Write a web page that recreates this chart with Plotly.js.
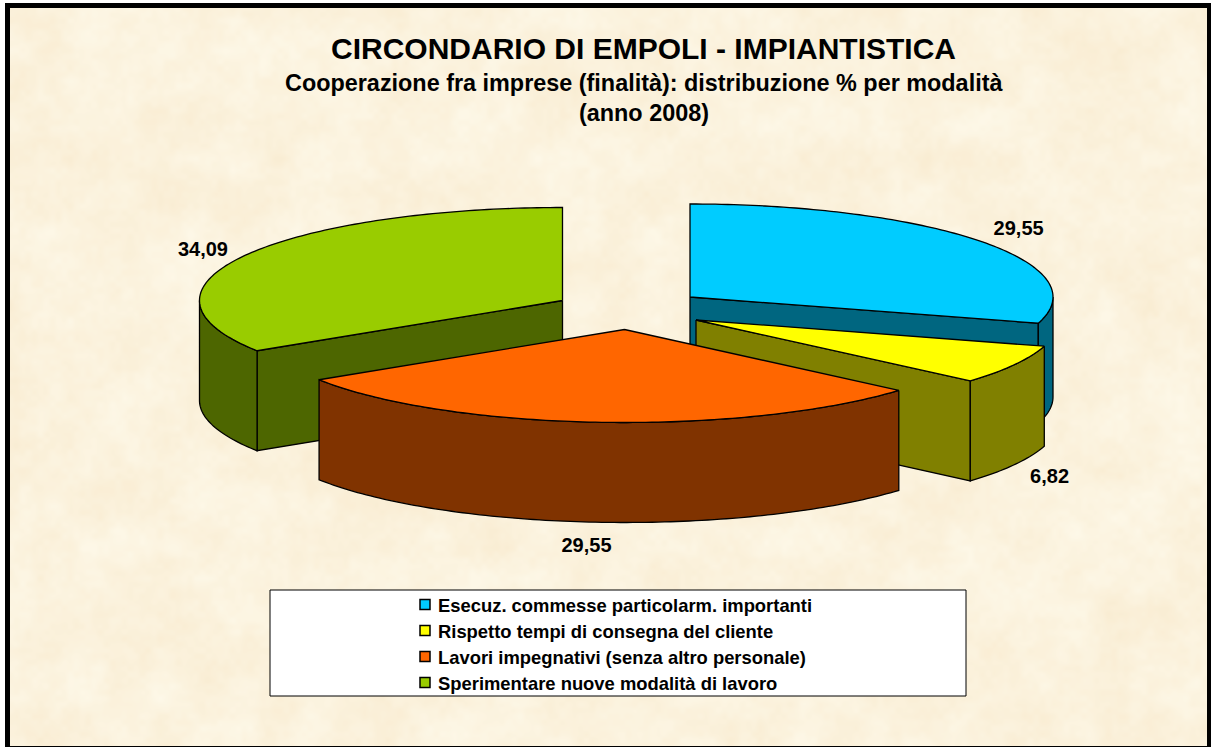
<!DOCTYPE html>
<html><head><meta charset="utf-8">
<script src="https://cdn.plot.ly/plotly-3.0.1.min.js"></script>
<style>html,body{margin:0;padding:0;background:#fff}#chart{width:1211px;height:747px}</style>
</head><body><div id="chart"></div>
<script>
// --- data ---
const categories = ["Esecuz. commesse particolarm. importanti","Rispetto tempi di consegna del cliente","Lavori impegnativi (senza altro personale)","Sperimentare nuove modalità di lavoro"];
const values = [29.55, 6.82, 29.55, 34.09];
const topColors = ["#00CCFF","#FFFF00","#FF6600","#99CC00"];
const sideColors = ["#006680","#808000","#803300","#4D6600"];
// --- exploded pie geometry (style) ---
const centerX = [690, 696, 624.5, 562.5];
const centerY = [297, 320, 329.5, 300.5];
const labelDX = [38, 35, -12, -41];
const labelDY = [-11, 13, 25, -5];
const rx = 363, ry = 93, depth = 100;
const drawOrder = [0, 3, 1, 2];
const FONT = "Liberation Sans, Arial, sans-serif";

const total = values.reduce((a,b)=>a+b,0);
let acc = 0;
const slices = values.map((v,i)=>{const a0=acc/total*360; acc+=v; return {i,a0,a1:acc/total*360};});
const rad = d=>d*Math.PI/180;
const px = (i,a)=>centerX[i]+rx*Math.sin(rad(a));
const py = (i,a)=>centerY[i]-ry*Math.cos(rad(a));
function arc(i,a,b){const n=Math.max(2,Math.ceil(Math.abs(b-a)));const xs=[],ys=[];for(let k=0;k<=n;k++){const t=a+(b-a)*k/n;xs.push(px(i,t));ys.push(py(i,t));}return [xs,ys];}
function poly(xs,ys,fill){return {type:"scatter",mode:"lines",x:xs.concat([xs[0]]),y:ys.concat([ys[0]]),fill:"toself",fillcolor:fill,line:{color:"#000",width:1.3,simplify:false},hoverinfo:"skip",showlegend:false};}

const traces=[];
drawOrder.forEach(o=>{
  const s=slices[o],i=s.i;
  const r0=Math.max(s.a0,90),r1=Math.min(s.a1,270);
  [[s.a0,-Math.sin(rad(s.a0))],[s.a1,Math.sin(rad(s.a1))]].forEach(([a,vis])=>{
    if(vis>1e-6){
      const ex=px(i,a),ey=py(i,a);
      traces.push(poly([centerX[i],ex,ex,centerX[i]],[centerY[i],ey,ey+depth,centerY[i]+depth],sideColors[i]));
    }
  });
  if(r1>r0){
    const [tx,ty]=arc(i,r0,r1);
    const bx=tx.slice().reverse(),by=ty.slice().reverse().map(y=>y+depth);
    traces.push(poly(tx.concat(bx),ty.concat(by),sideColors[i]));
  }
  const [ax,ay]=arc(i,s.a0,s.a1);
  traces.push(poly([centerX[i]].concat(ax),[centerY[i]].concat(ay),topColors[i]));
});
// value labels
traces.push({type:"scatter",mode:"text",
  x:slices.map(s=>{const m=(s.a0+s.a1)/2;return px(s.i,m)+labelDX[s.i];}),
  y:slices.map(s=>{const m=(s.a0+s.a1)/2;return py(s.i,m)+labelDY[s.i]+((m>90&&m<270)?depth:0);}),
  text:values.map(v=>v.toFixed(2).replace(".",",")),textposition:"middle center",
  textfont:{family:FONT,size:20,color:"#000",weight:700},hoverinfo:"skip",showlegend:false});
// legend entries
categories.forEach((c,i)=>traces.push({type:"scatter",mode:"markers",x:[null],y:[null],name:c,legendgroup:"g"+i,
  marker:{symbol:"square",size:10,color:topColors[i],line:{color:"#000",width:1.5}},hoverinfo:"skip"}));

// parchment texture
function parchment(){
  const c=document.createElement("canvas");c.width=1197;c.height=738;const g=c.getContext("2d");
  const im=g.createImageData(c.width,c.height);
  const h=(x,y)=>{const s=Math.sin(x*127.1+y*311.7)*43758.5453;return s-Math.floor(s);};
  const sm=t=>t*t*(3-2*t);
  const vn=(x,y)=>{const X=Math.floor(x),Y=Math.floor(y),u=sm(x-X),v=sm(y-Y);
    return (h(X,Y)*(1-u)+h(X+1,Y)*u)*(1-v)+(h(X,Y+1)*(1-u)+h(X+1,Y+1)*u)*v;};
  for(let y=0;y<c.height;y++)for(let x=0;x<c.width;x++){
    const n=0.5*vn(x/38,y/38)+0.3*vn(x/15+9,y/15+4)+0.2*vn(x/6+3,y/6+7)-0.5;
    const p=(y*c.width+x)*4;
    im.data[p]=251+n*5;im.data[p+1]=242+n*14;im.data[p+2]=221+n*26;im.data[p+3]=255;
  }
  g.putImageData(im,0,0);return c.toDataURL("image/png");
}
const bar=(x0,y0,x1,y1)=>({type:"rect",xref:"x",yref:"y",x0,y0,x1,y1,fillcolor:"#000",line:{width:0},layer:"above"});

const layout={
  width:1211,height:747,margin:{l:0,r:0,t:0,b:0},paper_bgcolor:"#fff",plot_bgcolor:"rgba(0,0,0,0)",
  xaxis:{range:[0,1211],visible:false,fixedrange:true},
  yaxis:{range:[747,0],visible:false,fixedrange:true},
  title:{text:"CIRCONDARIO DI EMPOLI - IMPIANTISTICA",x:643.5/1211,xanchor:"center",y:1-48/747,yanchor:"middle",font:{family:FONT,size:30,color:"#000",weight:700}},
  annotations:[
    {text:"Cooperazione fra imprese (finalità): distribuzione % per modalità",x:643.5,y:83,xref:"x",yref:"y",showarrow:false,font:{family:FONT,size:23.4,color:"#000",weight:700}},
    {text:"(anno 2008)",x:643.5,y:112.5,xref:"x",yref:"y",showarrow:false,font:{family:FONT,size:23.4,color:"#000",weight:700}}
  ],
  images:[{source:parchment(),xref:"x",yref:"y",x:10,y:8,sizex:1197,sizey:738,sizing:"stretch",layer:"below",xanchor:"left",yanchor:"top"}],
  shapes:[
    bar(5,3,1211,8),bar(5,3,10,747),bar(1207,3,1211,747),bar(5,746,1211,747),
    {type:"rect",xref:"x",yref:"y",x0:270,y0:590,x1:966,y1:696,fillcolor:"#fff",line:{color:"#000",width:1},layer:"above"}
  ],
  showlegend:true,
  legend:{x:398/1211,y:1-586/747,xanchor:"left",yanchor:"top",bgcolor:"rgba(0,0,0,0)",borderwidth:0,traceorder:"grouped",tracegroupgap:0,
    font:{family:FONT,size:18.4,color:"#000",weight:700},itemclick:false,itemdoubleclick:false},
  hovermode:false
};
Plotly.newPlot("chart",traces,layout,{displayModeBar:false,responsive:false}).then(()=>{
  document.querySelectorAll(".legend .legendpoints path.scatterpts").forEach(p=>p.setAttribute("transform","translate(27,0)"));
  let first=null;
  document.querySelectorAll(".legend .traces").forEach((t,i)=>{
    const m=/translate\(([-\d.]+)[ ,]+([-\d.]+)\)/.exec(t.getAttribute("transform")||"");
    if(!m)return;
    if(first===null)first=+m[2];
    t.setAttribute("transform","translate("+m[1]+","+(first+i*26)+")");
  });
});
</script></body></html>
